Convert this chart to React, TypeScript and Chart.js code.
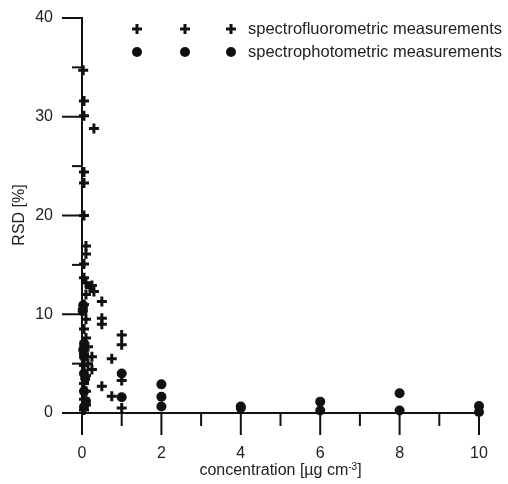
import React, { useEffect, useRef } from 'react';
import { Chart, registerables } from 'chart.js';

Chart.register(...registerables);

// spectrofluorometric measurements (crosses)
const fluoroX = [0.03, 0.05, 0.05, 0.3, 0.05, 0.05, 0.05, 0.1, 0.1, 0.05, 0.05, 0.1, 0.2, 0.25, 0.3, 0.1, 0.5, 0.5, 0.5, 1.0, 1.0, 0.75, 0.25, 0.25, 0.5, 0.75, 1.0, 1.0, 0.05, 0.02, 0.1, 0.05, 0.1, 0.05, 0.15, 0.05, 0.1, 0.05, 0.1, 0.05, 0.1, 0.05, 0.15];
const fluoroY = [34.7, 31.6, 30.1, 28.8, 24.4, 23.3, 20.0, 16.9, 16.1, 15.1, 13.7, 13.2, 12.7, 12.9, 12.3, 12.0, 11.3, 9.6, 9.0, 7.9, 6.9, 5.5, 5.7, 4.4, 2.7, 1.7, 3.3, 0.5, 11.0, 10.5, 9.5, 8.5, 7.6, 6.0, 5.0, 4.8, 3.8, 3.0, 2.2, 1.4, 0.8, 0.3, 6.7];

// spectrophotometric measurements (circles)
const photoX = [0.03, 0.02, 0.05, 0.03, 0.05, 0.05, 0.08, 0.05, 0.1, 0.05, 1, 1, 2, 2, 2, 4, 4, 6, 6, 8, 8, 10, 10];
const photoY = [10.9, 10.3, 7.0, 6.4, 5.7, 4.0, 3.5, 2.2, 1.2, 0.6, 4.0, 1.6, 2.9, 1.65, 0.65, 0.65, 0.5, 1.15, 0.25, 2.0, 0.25, 0.7, 0.1];

const xTicks = [0, 2, 4, 6, 8, 10];
const yTicks = [0, 10, 20, 30, 40];
const legendLabels = ['spectrofluorometric measurements', 'spectrophotometric measurements'];
const xTitleParts = ['concentration [µg cm', '-3', ']'];
const yTitle = 'RSD [%]';

const FONT = '"Liberation Sans", Arial, sans-serif';
const INK = '#111';
const TEXT = '#222';

function drawCross(ctx: CanvasRenderingContext2D, x: number, y: number, r: number) {
  ctx.beginPath();
  ctx.moveTo(x - r, y); ctx.lineTo(x + r, y);
  ctx.moveTo(x, y - r); ctx.lineTo(x, y + r);
  ctx.stroke();
}
function drawDot(ctx: CanvasRenderingContext2D, x: number, y: number, r: number) {
  ctx.beginPath();
  ctx.arc(x, y, r, 0, Math.PI * 2);
  ctx.fill();
}

const decorPlugin = {
  id: 'decor',
  beforeDatasetsDraw(chart: any) {
    const ctx = chart.ctx as CanvasRenderingContext2D;
    const xs = chart.scales.x, ys = chart.scales.y;
    const y0 = ys.getPixelForValue(0);
    const x0 = xs.getPixelForValue(0);
    ctx.save();
    ctx.strokeStyle = INK;
    ctx.lineWidth = 2;
    for (let v = 0; v <= 10; v += 1) {
      const px = xs.getPixelForValue(v);
      const len = v % 2 === 0 ? 22 : 13;
      ctx.beginPath(); ctx.moveTo(px, y0); ctx.lineTo(px, y0 + len); ctx.stroke();
    }
    for (let v = 0; v <= 40; v += 5) {
      const py = ys.getPixelForValue(v);
      const len = v % 10 === 0 ? 20 : 10;
      ctx.beginPath(); ctx.moveTo(x0, py); ctx.lineTo(x0 - len, py); ctx.stroke();
    }
    ctx.restore();
  },
  afterDraw(chart: any) {
    const ctx = chart.ctx as CanvasRenderingContext2D;
    const area = chart.chartArea;
    ctx.save();
    // legend
    const rows = [29, 52];
    const mx = [137, 185, 231];
    ctx.strokeStyle = INK; ctx.fillStyle = INK; ctx.lineWidth = 3;
    mx.forEach((x) => { drawCross(ctx, x, rows[0], 5); drawDot(ctx, x, rows[1], 5); });
    ctx.fillStyle = TEXT;
    ctx.font = `16.5px ${FONT}`;
    ctx.textBaseline = 'middle';
    ctx.textAlign = 'left';
    ctx.fillText(legendLabels[0], 248, rows[0]);
    ctx.fillText(legendLabels[1], 248, rows[1]);
    // x title with superscript
    ctx.font = `16px ${FONT}`;
    const w1 = ctx.measureText(xTitleParts[0]).width;
    const w3 = ctx.measureText(xTitleParts[2]).width;
    ctx.font = `10px ${FONT}`;
    const w2 = ctx.measureText(xTitleParts[1]).width;
    const total = w1 + w2 + w3;
    const cx = (area.left + area.right) / 2;
    let x = cx - total / 2;
    const ty = 471;
    ctx.textBaseline = 'middle';
    ctx.font = `16px ${FONT}`;
    ctx.fillText(xTitleParts[0], x, ty); x += w1;
    ctx.font = `10px ${FONT}`;
    ctx.fillText(xTitleParts[1], x, ty - 4); x += w2;
    ctx.font = `16px ${FONT}`;
    ctx.fillText(xTitleParts[2], x, ty);
    // y title
    ctx.translate(20, 215);
    ctx.rotate(-Math.PI / 2);
    ctx.textAlign = 'center';
    ctx.fillText(yTitle, 0, 0);
    ctx.restore();
  },
};

export default function App() {
  const ref = useRef<HTMLCanvasElement | null>(null);
  useEffect(() => {
    document.body.style.margin = '0';
    const canvas = ref.current!;
    const chart = new Chart(canvas, {
      type: 'scatter',
      data: {
        datasets: [
          {
            label: legendLabels[0],
            data: fluoroX.map((x, i) => ({ x, y: fluoroY[i] })),
            pointStyle: 'cross',
            pointRadius: 5,
            pointBorderWidth: 3,
            borderColor: INK,
            backgroundColor: INK,
            clip: false,
          } as any,
          {
            label: legendLabels[1],
            data: photoX.map((x, i) => ({ x, y: photoY[i] })),
            pointStyle: 'circle',
            pointRadius: 5,
            pointBorderWidth: 0,
            borderColor: INK,
            backgroundColor: INK,
            clip: false,
          } as any,
        ],
      },
      options: {
        responsive: false,
        animation: false,
        layout: { padding: { top: 18, right: 29, left: 0, bottom: 0 } },
        plugins: { legend: { display: false }, tooltip: { enabled: false } },
        scales: {
          x: {
            type: 'linear',
            min: 0,
            max: 10,
            afterFit: (s: any) => { s.height = 71; s.paddingLeft = 0; s.paddingRight = 0; },
            afterBuildTicks: (s: any) => { s.ticks = xTicks.map((v) => ({ value: v })); },
            grid: { display: false, drawTicks: false },
            border: { display: true, color: INK, width: 2 },
            ticks: { color: TEXT, font: { family: FONT, size: 16 }, padding: 31, maxRotation: 0 },
          },
          y: {
            type: 'linear',
            min: 0,
            max: 40,
            afterFit: (s: any) => { s.width = 82; s.paddingTop = 0; s.paddingBottom = 0; },
            afterBuildTicks: (s: any) => { s.ticks = yTicks.map((v) => ({ value: v })); },
            grid: { display: false, drawTicks: false },
            border: { display: true, color: INK, width: 2 },
            ticks: { color: TEXT, font: { family: FONT, size: 16 }, padding: 29 },
          },
        },
      },
      plugins: [decorPlugin],
    });
    return () => chart.destroy();
  }, []);
  return (
    <div style={{ position: 'absolute', left: 0, top: 0, width: 508, height: 484 }}>
      <canvas ref={ref} width={508} height={484} style={{ display: 'block' }} />
    </div>
  );
}
